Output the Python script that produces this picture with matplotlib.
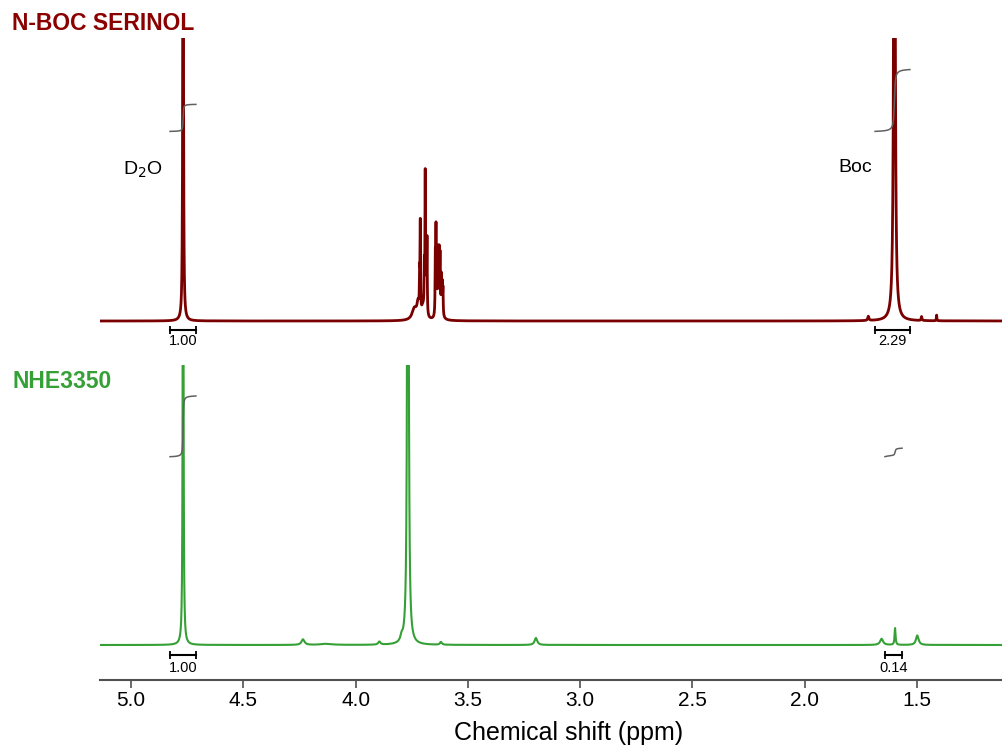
import numpy as np
import matplotlib
matplotlib.use("Agg")
import matplotlib.pyplot as plt

plt.rcParams['font.family'] = ['Liberation Sans', 'DejaVu Sans']

# chemical shift grid (ppm)
ppm = np.arange(1.10, 5.16, 0.0001)

# N-Boc serinol: peak centres (ppm), heights (panel units), half widths (ppm)
ser_pos = [4.768, 3.738, 3.722, 3.700, 3.625, 3.715, 3.712, 3.694, 3.690, 3.686, 3.682,
           3.645, 3.642, 3.638, 3.633, 3.628, 3.624, 3.618, 3.614, 3.611,
           1.717, 1.601, 1.480, 1.413]
ser_hgt = [2.5, 0.04, 0.05, 0.04, 0.05, 0.12, 0.31, 0.15, 0.48, 0.22, 0.26,
           0.2, 0.29, 0.18, 0.21, 0.19, 0.17, 0.12, 0.1, 0.09,
           0.015, 3.0, 0.014, 0.02]
ser_wid = [0.0015, 0.012, 0.006, 0.008, 0.008, 0.0012, 0.0012, 0.0012, 0.0012, 0.0012, 0.0012,
           0.0012, 0.0012, 0.0012, 0.0012, 0.0012, 0.0012, 0.0012, 0.0012, 0.0012,
           0.003, 0.003, 0.002, 0.0012]

# NHE3350
nhe_pos = [4.768, 4.234, 4.130, 3.894, 3.795, 3.767, 3.620, 3.197, 1.658, 1.598, 1.499]
nhe_hgt = [3.0, 0.02, 0.004, 0.011, 0.018, 4.0, 0.01, 0.025, 0.022, 0.06, 0.034]
nhe_wid = [0.0015, 0.008, 0.03, 0.006, 0.006, 0.0025, 0.005, 0.007, 0.008, 0.0025, 0.007]

# integration regions (ppm, left to right) and values
ser_int = [(4.826, 4.711, 1.00), (1.687, 1.532, 2.29)]
nhe_int = [(4.826, 4.711, 1.00), (1.643, 1.567, 0.14)]

ticks = [5.0, 4.5, 4.0, 3.5, 3.0, 2.5, 2.0, 1.5]
xlim = (5.138, 1.122)


def spectrum(pos, hgt, wid):
    y = np.zeros_like(ppm)
    for c, h, w in zip(pos, hgt, wid):
        y += h * w**2 / ((ppm - c)**2 + w**2)
    return y


def draw_integrals(ax, y, regions, base, unit, bar_y, lab_y):
    for hi, lo, val in regions:
        m = (ppm <= hi) & (ppm >= lo)
        xs = ppm[m][::-1]
        cum = np.cumsum(y[m][::-1])
        cum = cum / cum[-1]
        ax.plot(xs, base + val * unit * cum, color='#606060', lw=1.1, zorder=3)
        ax.plot([hi, lo], [bar_y, bar_y], color='k', lw=1.5, marker='|', ms=6, mew=1.3)
        ax.text((hi + lo) / 2, lab_y, '%.2f' % val, ha='center', va='center', fontsize=10.5)


W, H = 1002, 749
fig = plt.figure(figsize=(W / 100, H / 100), dpi=100)

ax1 = fig.add_axes([100 / W, 1 - 350 / H, 902 / W, 312 / H])
ax2 = fig.add_axes([100 / W, 1 - 680 / H, 902 / W, 315 / H])

y1 = spectrum(ser_pos, ser_hgt, ser_wid)
y2 = spectrum(nhe_pos, nhe_hgt, nhe_wid)

ax1.plot(ppm, y1, color='#7a0000', lw=2.0)
ax2.plot(ppm, y2, color='#35a035', lw=1.5)

draw_integrals(ax1, y1, ser_int, 0.67, 0.0954, -0.032, -0.072)
draw_integrals(ax2, y2, nhe_int, 0.6725, 0.2168, -0.036, -0.082)

ax1.text(4.947, 0.534, 'D$_2$O', ha='center', va='center', fontsize=14)
ax1.text(1.777, 0.544, 'Boc', ha='center', va='center', fontsize=14)

ax1.set_xlim(xlim)
ax1.set_ylim(-0.1025, 1.0)
ax2.set_xlim(xlim)
ax2.set_ylim(-0.125, 1.0)

for s in ax1.spines.values():
    s.set_visible(False)
ax1.set_xticks([])
ax1.set_yticks([])
for k in ['top', 'left', 'right']:
    ax2.spines[k].set_visible(False)
ax2.spines['bottom'].set_color('#505050')
ax2.spines['bottom'].set_linewidth(1.5)
ax2.set_yticks([])
ax2.set_xticks(ticks)
ax2.set_xticklabels(['%.1f' % t for t in ticks])
ax2.tick_params(axis='x', direction='out', length=6, width=1.2, color='#505050', labelsize=15, pad=2)
ax2.set_xlabel('Chemical shift (ppm)', fontsize=18, va='center')
ax2.xaxis.set_label_coords(0.519, -0.168)

fig.text(12 / W, 1 - 23 / H, 'N-BOC SERINOL', color='#8b0000', fontsize=16.5, fontweight='bold', va='center')
fig.text(12 / W, 1 - 381 / H, 'NHE3350', color='#35a035', fontsize=16.5, fontweight='bold', va='center')

fig.savefig('out.png', dpi=100)
